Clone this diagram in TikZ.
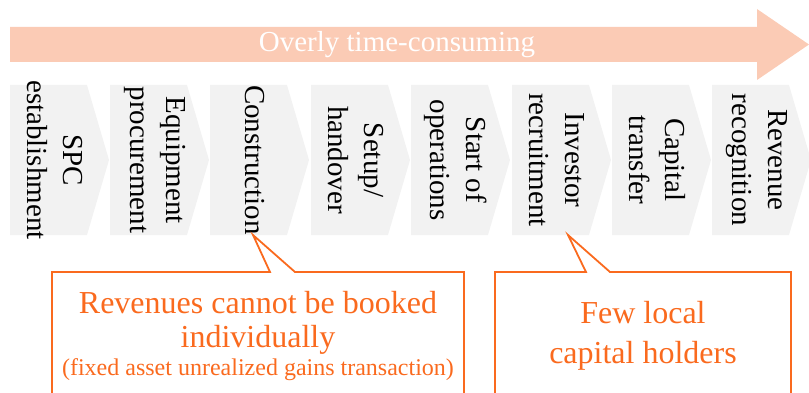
\documentclass[tikz,border=0pt]{standalone}
\usepackage{fontspec}
\setmainfont{Liberation Serif}
\definecolor{peach}{HTML}{FBCBB5}
\definecolor{chevgray}{HTML}{F2F2F2}
\definecolor{noteorange}{HTML}{FA6A1E}
\begin{document}
\begin{tikzpicture}[x=1pt,y=-1pt,
        steptext/.style={rotate=-90,align=center,inner sep=0pt,font=\fontsize{29}{36}\selectfont},
        noteline/.style={draw=noteorange,line width=1.8pt,line join=miter},
        notetext/.style={text=noteorange,align=center,inner sep=0pt,font=\fontsize{32}{34}\selectfont}]
            \useasboundingbox (0,0) rectangle (809,393);

            % time arrow
            \fill[color=peach] (10,27) -- (757,27) -- (757,9) -- (809,44.5)
                -- (757,80) -- (757,62) -- (10,62) -- cycle;
            \node[text=white,inner sep=0pt,font=\fontsize{29}{34}\selectfont] (banner) at (397,44.5) {Overly time-consuming};

            % process steps
            \foreach \x/\n/\txt in {10/spc/{SPC\\establishment},
                    110/equip/{Equipment\\procurement},
                    210/constr/{Construction},
                    311/setup/{Setup/\\handover},
                    411/start/{Start of\\operations},
                    512/invest/{Investor\\recruitment},
                    612/capital/{Capital\\transfer},
                    712/revenue/{Revenue\\recognition}}
            {
                \fill[color=chevgray] (\x,85) -- (\x+77,85) -- (\x+99,160)
                    -- (\x+77,235) -- (\x,235) -- cycle;
                \node[steptext] (\n) at (\x+45,160) {\txt};
            }

            % callouts
            \coordinate (tipA) at (253,235);
            \coordinate (tipB) at (568,235);
            \draw[noteline] (52,396) -- (52,272) -- (270,272) -- (tipA)
                -- (295,272) -- (464,272) -- (464,396);
            \draw[noteline] (495,396) -- (495,272) -- (586,272) -- (tipB)
                -- (610,272) -- (791,272) -- (791,396);
            \node[notetext] (bookA) at (258,322.5) {Revenues cannot be booked\\individually};
            \node[notetext,anchor=base,font=\fontsize{24}{28}\selectfont] (bookB) at (258,375)
                {(fixed asset unrealized gains transaction)};
            \node[notetext,font=\fontsize{32}{40}\selectfont] (holders) at (643,335.5) {Few local\\capital holders};
        \end{tikzpicture}
\end{document}
